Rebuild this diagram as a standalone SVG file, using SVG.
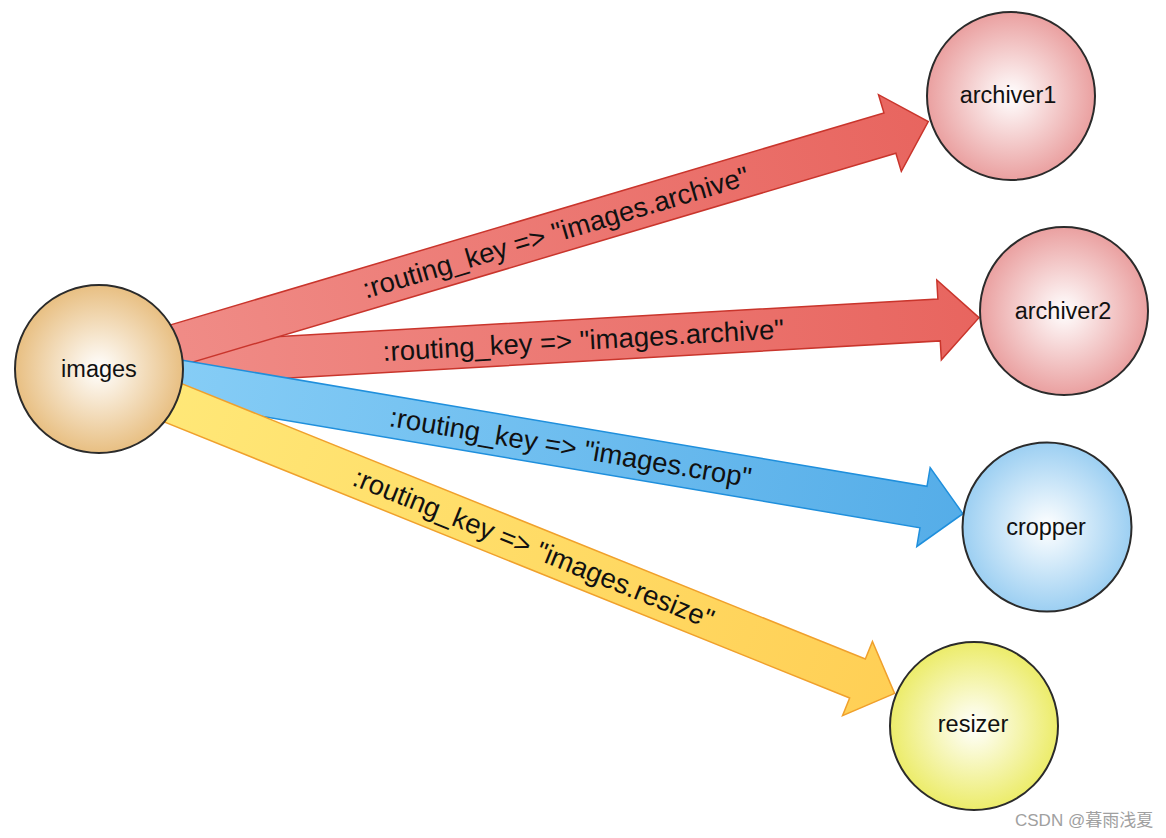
<svg xmlns="http://www.w3.org/2000/svg" width="1166" height="838" viewBox="0 0 1166 838">
  <defs>
    <linearGradient id="gRed" x1="0" y1="0" x2="1" y2="0">
      <stop offset="0" stop-color="#f08c87"/>
      <stop offset="1" stop-color="#e8655f"/>
    </linearGradient>
    <linearGradient id="gBlue" x1="0" y1="0" x2="1" y2="0">
      <stop offset="0" stop-color="#86cdf6"/>
      <stop offset="1" stop-color="#55ade8"/>
    </linearGradient>
    <linearGradient id="gYellow" x1="0" y1="0" x2="1" y2="0">
      <stop offset="0" stop-color="#ffe878"/>
      <stop offset="1" stop-color="#ffcf55"/>
    </linearGradient>
    <radialGradient id="nTan" cx="0.5" cy="0.5" r="0.5">
      <stop offset="0" stop-color="#ffffff"/>
      <stop offset="1" stop-color="#e8bf82"/>
    </radialGradient>
    <radialGradient id="nRed" cx="0.5" cy="0.5" r="0.5">
      <stop offset="0" stop-color="#ffffff"/>
      <stop offset="1" stop-color="#eaa0a0"/>
    </radialGradient>
    <radialGradient id="nBlue" cx="0.5" cy="0.5" r="0.5">
      <stop offset="0" stop-color="#ffffff"/>
      <stop offset="1" stop-color="#9ccff2"/>
    </radialGradient>
    <radialGradient id="nYellow" cx="0.5" cy="0.5" r="0.5">
      <stop offset="0" stop-color="#ffffff"/>
      <stop offset="1" stop-color="#ecec6a"/>
    </radialGradient>
  </defs>
  <style>
    .arrow { stroke-width: 1.5; stroke-linejoin: miter; }
    .red { fill: url(#gRed); stroke: #c9352c; }
    .blue { fill: url(#gBlue); stroke: #1f8fdc; }
    .yellow { fill: url(#gYellow); stroke: #f0a02c; }
    .lbl { font-family: "Liberation Sans", Arial, Helvetica, sans-serif; font-size: 27.5px; fill: #111; text-anchor: middle; }
    .node circle { stroke: #2b2b2b; stroke-width: 2; }
    .node text { font-family: "Liberation Sans", Arial, Helvetica, sans-serif; font-size: 23.5px; fill: #111; text-anchor: middle; }
    .wm { font-family: "Liberation Sans", Arial, "Noto Sans CJK SC", sans-serif; font-size: 17px; fill: #a0a0a0; }
  </style>
  <rect width="1166" height="838" fill="#ffffff"/>

  <g id="connectors">
    <g id="edge-archiver2" transform="translate(183,363) rotate(-3.26)">
      <polygon class="arrow red" points="-15,-21 757.3,-21 757.3,-40 797.3,0 757.3,40 757.3,21 -15,21"/>
      <text class="lbl" x="401" y="9.5">:routing_key =&gt; "images.archive"</text>
    </g>
    <g id="edge-archiver1" transform="translate(180,344) rotate(-16.55)">
      <polygon class="arrow red" points="-15,-21 740.6,-21 740.6,-40 780.6,0 740.6,40 740.6,21 -15,21"/>
      <text class="lbl" x="392" y="9.5">:routing_key =&gt; "images.archive"</text>
    </g>
    <g id="edge-cropper" transform="translate(185,382) rotate(9.61)">
      <polygon class="arrow blue" points="-15,-21 749,-21 749,-40 789,0 749,40 749,21 -15,21"/>
      <text class="lbl" x="391" y="9.5">:routing_key =&gt; "images.crop"</text>
    </g>
    <g id="edge-resizer" transform="translate(171,402) rotate(21.94)">
      <polygon class="arrow yellow" points="-15,-21 740.1,-21 740.1,-40 780.1,0 740.1,40 740.1,21 -15,21"/>
      <text class="lbl" x="391" y="9.5">:routing_key =&gt; "images.resize"</text>
    </g>
  </g>

  <g id="node-images" class="node">
    <circle cx="99" cy="369" r="84" fill="url(#nTan)"/>
    <text x="99" y="377">images</text>
  </g>
  <g id="node-archiver1" class="node">
    <circle cx="1011" cy="96" r="84" fill="url(#nRed)"/>
    <text x="1008" y="103">archiver1</text>
  </g>
  <g id="node-archiver2" class="node">
    <circle cx="1064" cy="311" r="84" fill="url(#nRed)"/>
    <text x="1063" y="319">archiver2</text>
  </g>
  <g id="node-cropper" class="node">
    <circle cx="1047" cy="527" r="84.5" fill="url(#nBlue)"/>
    <text x="1046" y="535">cropper</text>
  </g>
  <g id="node-resizer" class="node">
    <circle cx="974" cy="726" r="84" fill="url(#nYellow)"/>
    <text x="973" y="732">resizer</text>
  </g>

  <text class="wm" x="1015" y="826">CSDN @暮雨浅夏</text>
</svg>
